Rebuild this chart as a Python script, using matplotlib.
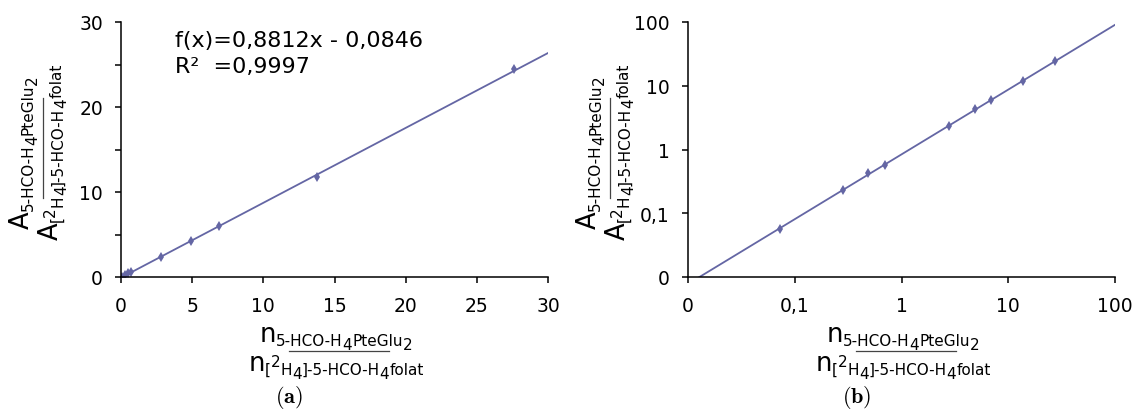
import matplotlib
matplotlib.use("Agg")
import matplotlib.pyplot as plt
from matplotlib.font_manager import findfont, FontProperties
from matplotlib.ft2font import FT2Font
from matplotlib.lines import Line2D
from matplotlib.ticker import FixedLocator, FixedFormatter, NullLocator
import numpy as np

W, H, DPI = 1135, 414, 100

# calibration points: amount ratio n vs. area ratio A
ratio_n = [0.073, 0.283, 0.485, 0.70, 2.79, 4.9, 6.89, 13.75, 27.6]
ratio_a = [0.057, 0.232, 0.43, 0.57, 2.36, 4.25, 5.95, 11.8, 24.5]
slope, intercept = 0.8812, -0.0846
r_squared = 0.9997

lin_xticks = [0, 5, 10, 15, 20, 25, 30]
lin_yticks = [0, 10, 20, 30]
lin_yminor = [5, 15, 25]
log_ticks = [0.01, 0.1, 1, 10, 100]
log_labels = ["0", "0,1", "1", "10", "100"]

COLOR = "#6466a4"
BIG, SUB = 18.5, 11

_font = FT2Font(findfont(FontProperties(family="DejaVu Sans")))


def advance(s, size):
    """Pen advance of a string in pixels (glyph advances, no kerning)."""
    _font.set_size(size, DPI)
    return sum(_font.load_char(ord(c)).linearHoriAdvance / 65536 for c in s)


# (text, fontsize, drop below the main baseline in px)
def ratio_pieces(sym):
    num = [(sym, BIG, 0), ("5-HCO-H", SUB, 4), ("4", SUB, 8), ("PteGlu", SUB, 4), ("2", SUB, 8)]
    den = [(sym, BIG, 0), ("[", SUB, 4), ("2", SUB, -3.5), ("H", SUB, 4), ("4", SUB, 8),
           ("]-5-HCO-H", SUB, 4), ("4", SUB, 8), ("folat", SUB, 4)]
    return num, den


def px(x, y):
    return x / W, 1 - y / H


def rich_line(fig, pieces, center, base, rot=False):
    """Lay text pieces along one baseline, centred on `center` (pixels, image coords)."""
    widths = [advance(s, size) for s, size, _ in pieces]
    total = sum(widths)
    along = center + total / 2 if rot else center - total / 2
    for (s, size, drop), w in zip(pieces, widths):
        pos = px(base + drop, along) if rot else px(along, base + drop)
        fig.text(*pos, s, fontsize=size, ha="left", va="baseline",
                 rotation=90 if rot else 0, rotation_mode="anchor")
        along += -w if rot else w


def bar(fig, x0, y0, x1, y1):
    fig.add_artist(Line2D([x0 / W, x1 / W], [1 - y0 / H, 1 - y1 / H],
                          transform=fig.transFigure, color="#444444", lw=0.9))


def fraction_labels(fig, box, sym_y="A", sym_x="n"):
    x0, top, x1, bottom = box
    # x label under the axis
    num, den = ratio_pieces(sym_x)
    cx = x0 + 215
    rich_line(fig, num, cx, 342)
    rich_line(fig, den, cx, 371)
    bar(fig, cx - 47, 352, cx + 53, 352)
    # rotated y label left of the axis
    num, den = ratio_pieces(sym_y)
    cy = 152
    rich_line(fig, num, cy, x0 - 92, rot=True)
    rich_line(fig, den, cy, x0 - 63, rot=True)
    bar(fig, x0 - 78, cy + 47, x0 - 78, cy - 53)


def style_axes(ax):
    for side in ("top", "right"):
        ax.spines[side].set_visible(False)
    for side in ("left", "bottom"):
        ax.spines[side].set_linewidth(1.1)
    ax.tick_params(which="both", direction="out", length=4.5, width=1.1, labelsize=13.5)
    ax.tick_params(axis="x", pad=9)
    ax.tick_params(axis="y", pad=8.5)


fig = plt.figure(figsize=(W / DPI, H / DPI), dpi=DPI)
boxes = [(121, 23, 548, 278), (688, 23, 1115, 278)]
axes = [fig.add_axes([b[0] / W, 1 - b[3] / H, (b[2] - b[0]) / W, (b[3] - b[1]) / H]) for b in boxes]

# (a) linear calibration
ax = axes[0]
xs = np.array([0.0, 30.0])
ax.plot(xs, slope * xs + intercept, color=COLOR, lw=1.3)
ax.plot(ratio_n, ratio_a, "d", color=COLOR, ms=5.5, mew=0)
ax.set_xlim(0, 30)
ax.set_ylim(0, 30)
ax.xaxis.set_major_locator(FixedLocator(lin_xticks))
ax.yaxis.set_major_locator(FixedLocator(lin_yticks))
ax.yaxis.set_minor_locator(FixedLocator(lin_yminor))
style_axes(ax)
ax.text((175 - 121) / 427, (278 - 47) / 255, f"f(x)={slope:.4f}x - {abs(intercept):.4f}".replace(".", ","),
        transform=ax.transAxes, fontsize=16, ha="left", va="baseline")
ax.text((175 - 121) / 427, (278 - 73) / 255, f"R²  ={r_squared:.4f}".replace(".", ","),
        transform=ax.transAxes, fontsize=16, ha="left", va="baseline")

# (b) same data on log-log axes with a power trendline
ax = axes[1]
b, log_a = np.polyfit(np.log10(ratio_n), np.log10(ratio_a), 1)
xs = np.logspace(-2, 2, 200)
ax.plot(xs, 10 ** log_a * xs ** b, color=COLOR, lw=1.3)
ax.plot(ratio_n, ratio_a, "d", color=COLOR, ms=5.5, mew=0)
ax.set_xscale("log")
ax.set_yscale("log")
ax.set_xlim(0.01, 100)
ax.set_ylim(0.01, 100)
for axis in (ax.xaxis, ax.yaxis):
    axis.set_major_locator(FixedLocator(log_ticks))
    axis.set_major_formatter(FixedFormatter(log_labels))
    axis.set_minor_locator(NullLocator())
style_axes(ax)

for box in boxes:
    fraction_labels(fig, box)

for label, cx in (("(a)", 289), ("(b)", 857)):
    fig.text(*px(cx, 398), r"$\mathbf{" + label + "}$", math_fontfamily="cm",
             fontsize=16, ha="center", va="center")

fig.savefig("out.png", dpi=DPI)
